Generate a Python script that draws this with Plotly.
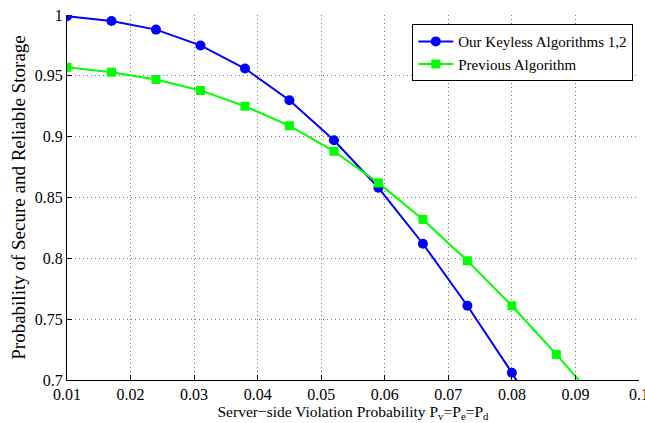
import plotly.graph_objects as go

x_ours = [0.010, 0.017, 0.024, 0.031, 0.038, 0.045, 0.052, 0.059, 0.066, 0.073, 0.080, 0.087]
y_ours = [0.999, 0.995, 0.988, 0.975, 0.956, 0.930, 0.897, 0.858, 0.812, 0.761, 0.706, 0.645]
x_prev = [0.010, 0.017, 0.024, 0.031, 0.038, 0.045, 0.052, 0.059, 0.066, 0.073, 0.080, 0.087, 0.094]
y_prev = [0.957, 0.953, 0.947, 0.938, 0.925, 0.909, 0.888, 0.862, 0.832, 0.798, 0.761, 0.721, 0.679]

x_ticks = [0.01, 0.02, 0.03, 0.04, 0.05, 0.06, 0.07, 0.08, 0.09, 0.1]
x_tick_labels = ["0.01", "0.02", "0.03", "0.04", "0.05", "0.06", "0.07", "0.08", "0.09", "0.1"]
y_ticks = [0.7, 0.75, 0.8, 0.85, 0.9, 0.95, 1.0]
y_tick_labels = ["0.7", "0.75", "0.8", "0.85", "0.9", "0.95", "1"]

FONT = "Times New Roman, Liberation Serif, serif"

fig = go.Figure()
fig.add_trace(go.Scatter(
    x=x_ours, y=y_ours, mode="lines+markers", name="Our Keyless Algorithms 1,2",
    line=dict(color="#0000ff", width=2),
    marker=dict(symbol="circle", size=10, color="#0000ff"),
))
fig.add_trace(go.Scatter(
    x=x_prev, y=y_prev, mode="lines+markers", name="Previous Algorithm",
    line=dict(color="#00ff00", width=2),
    marker=dict(symbol="square", size=9, color="#00ff00"),
))

axis_common = dict(
    showgrid=True, gridcolor="#777777", griddash="1px,3px", gridwidth=1,
    showline=True, linecolor="black", linewidth=1,
    ticks="inside", ticklen=5, tickcolor="black",
    zeroline=False, ticklabeloverflow="allow", automargin=False,
    tickfont=dict(family=FONT, size=16, color="black"),
)

fig.update_layout(
    width=645, height=423,
    margin=dict(l=67, r=6, t=15, b=43),
    paper_bgcolor="white", plot_bgcolor="white",
    font=dict(family=FONT, color="black"),
    xaxis=dict(range=[0.01, 0.1], tickvals=x_ticks, ticktext=x_tick_labels,
               title=dict(text="Server\u2212side Violation Probability P<sub>v</sub>=P<sub>e</sub>=P<sub>d</sub>",
                          font=dict(family=FONT, size=15.5), standoff=0),
               **axis_common),
    yaxis=dict(range=[0.7, 1.0], tickvals=y_ticks, ticktext=y_tick_labels,
               title=dict(text="Probability of Secure and Reliable Storage",
                          font=dict(family=FONT, size=19), standoff=4),
               **axis_common),
    legend=dict(x=0.99, y=0.975, xanchor="right", yanchor="top",
                bgcolor="white", bordercolor="black", borderwidth=1,
                font=dict(family=FONT, size=15), tracegroupgap=0,
                itemwidth=35),
    showlegend=True,
)

fig.write_html("out.html")
